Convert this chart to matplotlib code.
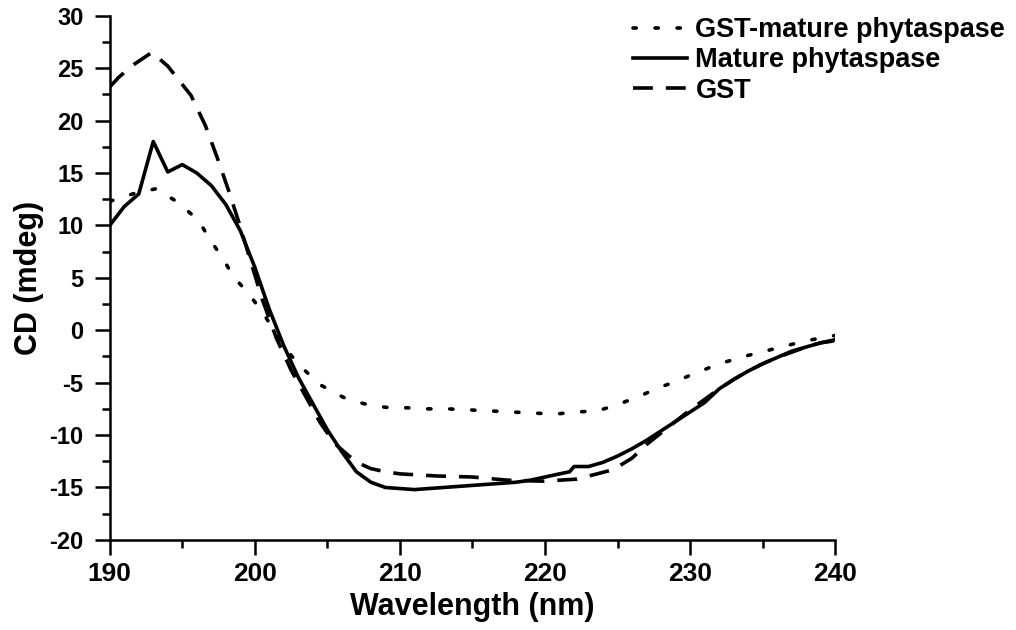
import matplotlib
matplotlib.use("Agg")
import matplotlib.pyplot as plt
from matplotlib.ticker import MultipleLocator

plt.rcParams["font.family"] = ["Liberation Sans", "DejaVu Sans"]
plt.rcParams["font.weight"] = "bold"
plt.rcParams["axes.unicode_minus"] = False

# Mature phytaspase (solid)
wl_mature = [190, 191, 192, 193, 194, 195, 196, 197, 198, 199, 200, 201, 202, 203, 204,
             205, 206, 207, 208, 209, 210, 211, 212, 213, 214, 215, 216, 217, 218, 219,
             220, 221, 221.7, 222, 223, 224, 225, 226, 227, 228, 229, 230, 231, 232, 233,
             234, 235, 236, 237, 238, 239, 240]
cd_mature = [10.0, 11.8, 13.0, 18.0, 15.1, 15.8, 15.0, 13.8, 12.0, 9.5, 6.0, 2.0, -1.5, -4.5, -7.0,
             -9.5, -11.6, -13.5, -14.5, -15.0, -15.1, -15.2, -15.1, -15.0, -14.9, -14.8, -14.7, -14.6, -14.5, -14.3,
             -14.0, -13.7, -13.5, -13.0, -13.0, -12.6, -12.0, -11.3, -10.5, -9.6, -8.7, -7.8, -6.9, -5.6, -4.7,
             -3.9, -3.2, -2.6, -2.0, -1.6, -1.2, -0.9]

# GST (dashed)
wl_gst = [190, 190.6, 191.5, 192.9, 194, 195.6, 196.6, 197.4, 198.2, 198.9, 199.6, 200.5, 201.5,
          202.5, 203.5, 204.5, 205.5, 206.5, 207.2, 208, 209, 210, 212.5, 215, 217.4, 219.9, 222.2,
          224.7, 226, 227, 228, 229, 230, 231, 232, 233, 234, 235, 236, 237, 238, 239, 240]
cd_gst = [23.2, 24.1, 25.2, 26.5, 25.2, 22.4, 19.5, 16.5, 13.3, 10.3, 7.1, 3.0, -0.8,
          -3.8, -6.3, -8.8, -10.8, -12.0, -12.7, -13.2, -13.5, -13.7, -13.9, -14.0, -14.3, -14.4, -14.2,
          -13.3, -12.2, -10.9, -9.8, -8.7, -7.6, -6.6, -5.6, -4.7, -3.9, -3.2, -2.6, -2.1, -1.6, -1.2, -1.0]

# GST-mature phytaspase (dotted)
wl_fusion = [190, 191.8, 193.2, 194.7, 196.1, 196.9, 197.8, 198.6, 199.5, 200.5, 201.5, 202.5,
             203.5, 204.5, 206.1, 207.5, 209, 210.5, 211.8, 213.3, 214.8, 216.3, 217.7, 219.2,
             220.7, 222.1, 223.6, 225, 226.5, 227.8, 229, 230, 232, 234, 236, 238, 240]
cd_fusion = [12.3, 13.1, 13.5, 12.2, 10.5, 8.7, 6.8, 5.0, 3.6, 1.8, -0.4, -2.4,
             -3.9, -5.2, -6.4, -7.0, -7.35, -7.4, -7.5, -7.5, -7.6, -7.7, -7.8, -7.9,
             -8.0, -7.8, -7.7, -7.1, -6.3, -5.5, -4.9, -4.3, -3.2, -2.4, -1.7, -1.0, -0.5]

fig = plt.figure(figsize=(10.16, 6.3), dpi=100)
ax = fig.add_axes([0.108, 0.143, 0.714, 0.832])

ax.plot(wl_fusion, cd_fusion, color="black", linewidth=2.6, dashes=(0.9, 5.2),
        dash_capstyle="round", label="GST-mature phytaspase")
ax.plot(wl_mature, cd_mature, color="black", linewidth=2.6, label="Mature phytaspase")
ax.plot(wl_gst, cd_gst, color="black", linewidth=2.6, dashes=(5.5, 3.6), label="GST")

ax.set_xlim(190, 240)
ax.set_ylim(-20, 30)
ax.xaxis.set_major_locator(MultipleLocator(10))
ax.xaxis.set_minor_locator(MultipleLocator(5))
ax.yaxis.set_major_locator(MultipleLocator(5))
ax.yaxis.set_minor_locator(MultipleLocator(2.5))
ax.spines["top"].set_visible(False)
ax.spines["right"].set_visible(False)
ax.spines["left"].set_linewidth(1.8)
ax.spines["bottom"].set_linewidth(1.8)
ax.tick_params(which="major", direction="out", length=11, width=1.8)
ax.tick_params(which="minor", direction="out", length=6, width=1.8)
ax.tick_params(axis="x", which="major", labelsize=19, pad=5)
ax.tick_params(axis="y", which="major", labelsize=17, pad=8)

ax.set_xlabel("Wavelength (nm)", fontsize=22, fontweight="bold", labelpad=4)
ax.set_ylabel("CD (mdeg)", fontsize=22, fontweight="bold", labelpad=4)

fig.legend(loc="upper right", bbox_to_anchor=(1.0, 0.99), frameon=False, fontsize=19.5,
           handlelength=2.0, handletextpad=0.3, labelspacing=0.16, borderaxespad=0.0)

fig.savefig("out.png", dpi=100)
